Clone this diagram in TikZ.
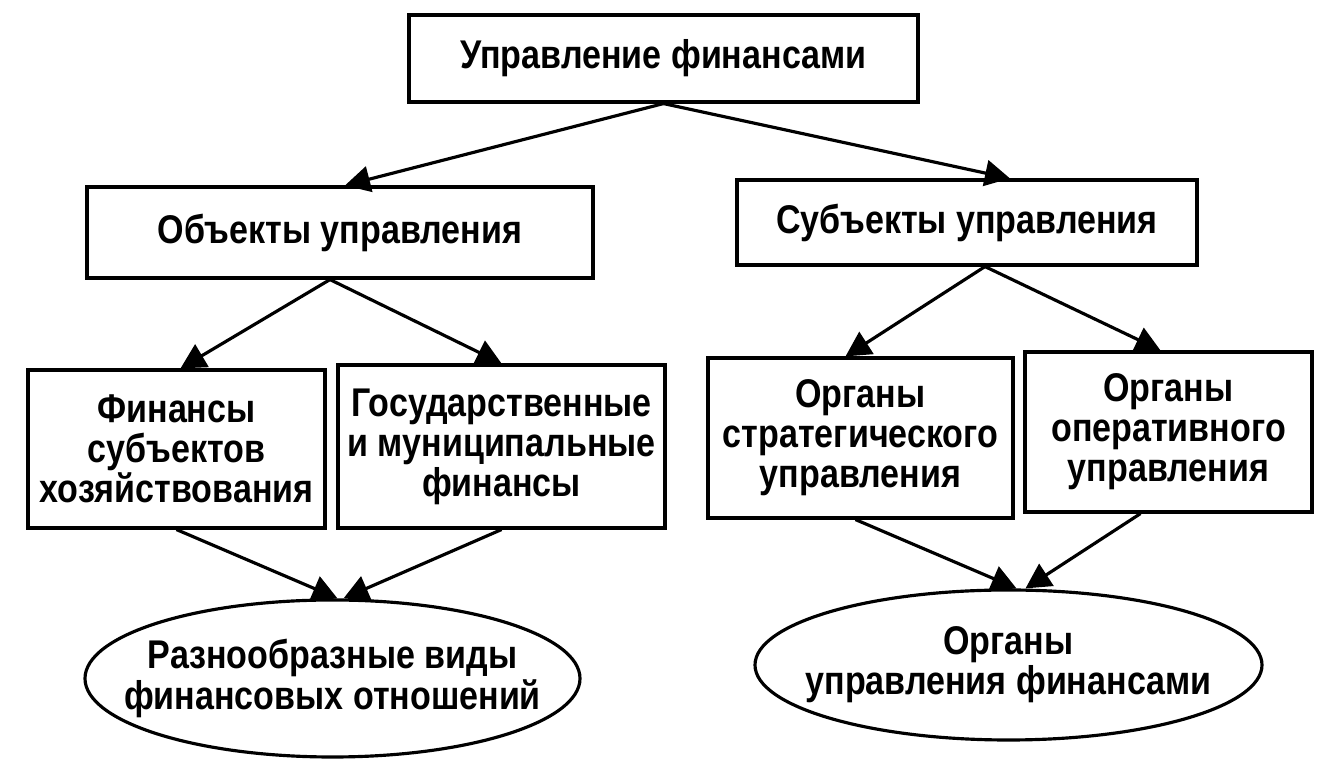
\documentclass[tikz,border=0pt]{standalone}
\usepackage{fontspec}
\setmainfont{Liberation Sans}[FakeStretch=0.85]
\usetikzlibrary{arrows.meta, shapes.geometric}

\begin{document}
\begin{tikzpicture}[
    box/.style={draw, line width=1.8pt, rectangle, inner sep=0pt, align=center},
    oval/.style={draw, line width=1.8pt, ellipse, inner xsep=-1.2cm, inner ysep=0pt, align=center},
    arr/.style={line width=1.8pt, -{Triangle[length=0.5cm, width=0.52cm]}},
    every node/.style={font=\bfseries\fontsize{22.8}{22.8}\selectfont}
]
\useasboundingbox (0,0) rectangle (26.86,15.3);

% top level
\node[box, minimum width=10.18cm, minimum height=1.74cm] (upr) at (13.27,14.13) {Управление финансами};

% second level
\node[box, minimum width=10.12cm, minimum height=1.82cm] (obj) at (6.80,10.65) {Объекты управления};
\node[box, minimum width=9.2cm, minimum height=1.7cm] (subj) at (19.34,10.85) {Субъекты управления};

% third level
\node[box, minimum width=5.94cm, minimum height=3.16cm] (finsub) at (3.53,6.32) {Финансы\\субъектов\\хозяйствования};
\node[box, minimum width=6.54cm, minimum height=3.26cm] (gosmun) at (10.03,6.37) {Государственные\\и муниципальные\\финансы};
\node[box, minimum width=6.1cm, minimum height=3.2cm] (strat) at (17.21,6.54) {Органы\\стратегического\\управления};
\node[box, minimum width=5.74cm, minimum height=3.2cm] (oper) at (23.37,6.66) {Органы\\оперативного\\управления};

% bottom level
\node[oval, minimum width=9.9cm, minimum height=3.14cm] (vidy) at (6.65,1.73) {Разнообразные виды\\финансовых отношений};
\node[oval, minimum width=10.14cm, minimum height=3.0cm] (organy) at (20.17,2.0) {Органы\\управления финансами};

% connectors
\draw[arr] (upr.south) -- ([xshift=0.1cm]obj.north);
\draw[arr] (upr.south) -- ([xshift=0.86cm]subj.north);

\draw[arr] ([xshift=-0.2cm]obj.south) -- ([xshift=0.08cm]finsub.north);
\draw[arr] ([xshift=-0.2cm]obj.south) -- (gosmun.north);
\draw[arr] ([xshift=0.36cm]subj.south) -- ([xshift=-0.3cm]strat.north);
\draw[arr] ([xshift=0.36cm]subj.south) -- ([xshift=-0.16cm]oper.north);

\draw[arr] (finsub.south) -- ([xshift=0.1cm]vidy.north);
\draw[arr] (gosmun.south) -- ([xshift=0.22cm]vidy.north);
\draw[arr] ([xshift=-0.1cm]strat.south) -- ([xshift=0.16cm]organy.north);
\draw[arr] ([xshift=-0.56cm]oper.south) -- ([xshift=0.34cm]organy.north);

\end{tikzpicture}
\end{document}
